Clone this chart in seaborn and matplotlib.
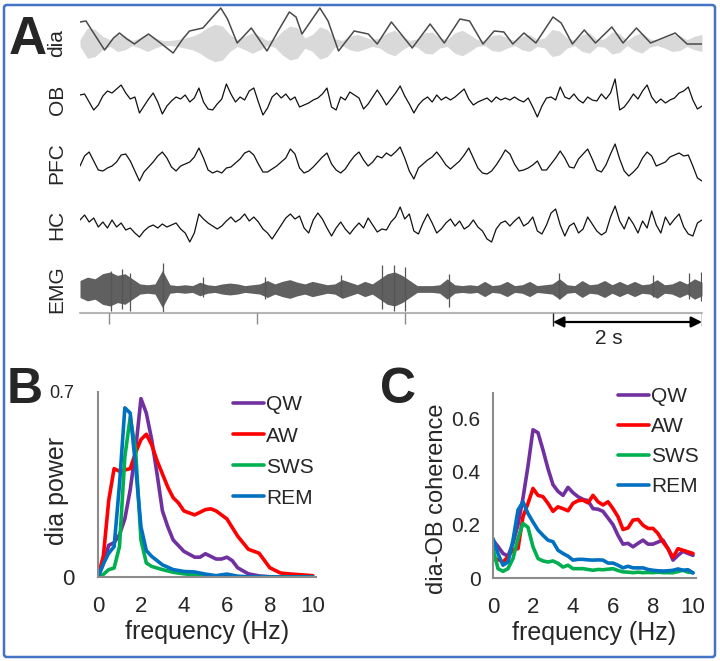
import numpy as np
import pandas as pd
import matplotlib
matplotlib.use("Agg")
from matplotlib import pyplot as plt
from matplotlib.patches import FancyBboxPatch
import seaborn as sns

# ---------------- Panel A: example traces (px-like units)
duration = 8.35  # s shown

# smoothed diaphragm envelope (black line): time (s), height
dia_env_t = [0.0, 0.08, 0.2, 0.33, 0.45, 0.53, 0.63, 0.73, 0.82, 0.92, 1.08, 1.25, 1.38,
             1.47, 1.65, 1.78, 1.89, 1.98, 2.11, 2.30, 2.51, 2.66, 2.81, 2.90, 2.98, 3.10,
             3.22, 3.33, 3.47, 3.68, 3.87, 3.99, 4.18, 4.46, 4.70, 4.89, 5.10, 5.23, 5.41,
             5.56, 5.69, 5.81, 5.96, 6.12, 6.35, 6.46, 6.61, 6.77, 6.92, 7.14, 7.29, 7.47,
             7.66, 7.99, 8.15, 8.35]
dia_env_v = [21, 22, 8, -7, 5, 10, 4, -1, 4, 9, 0, -10, 4,
             12, 15, 26, 35, 24, 0, 15, -8, 12, 31, 26, 9, 22,
             35, 22, -8, 12, 9, -1, 21, -5, 19, 0, 24, 22, -1,
             12, 11, -1, 10, 0, 26, 20, -1, 13, 0, 16, 0, 15,
             0, 10, -1, -1]

# raw diaphragm signal: half-amplitude of the grey band, every ~0.1 s
dia_raw_amp = [4, 18, 16, 8, 4, 10, 8, 3, 6, 10, 6, 3, 3, 4, 6, 8, 12, 18, 22, 20,
               10, 4, 8, 12, 8, 3, 5, 14, 20, 18, 6, 10, 19, 16, 5, 3, 8, 10, 7, 4,
               6, 12, 15, 8, 3, 5, 12, 13, 6, 4, 12, 15, 10, 4, 3, 9, 10, 6, 3, 8,
               10, 4, 6, 16, 14, 6, 3, 10, 12, 4, 5, 13, 11, 3, 9, 12, 5, 3, 6, 10,
               9, 4, 8, 10]

ob_trace = [5, 6, -2, -10, -5, 4, 9, 7, 11, 15, 7, 1, 3, -13, -6, 1, 7, -2, -14, -6,
            -1, 3, 1, 5, -2, 2, 12, -2, -9, -10, -4, 1, 16, 6, -2, 3, 0, 9, 12, -2,
            -15, -8, 3, 7, 2, 6, 0, 3, -7, -5, -3, 0, 2, 6, 12, -7, -10, 3, 0, 8,
            5, 2, -9, -4, 3, 10, 3, -5, 1, 7, 14, 4, -4, -13, -5, 0, 3, -2, 5, 0,
            3, 0, 3, 7, 11, 1, -5, -2, 0, 2, -2, 3, 0, 2, 0, 3, 0, -2, 2, -7,
            -17, -6, 2, 3, 0, 13, 3, 1, 6, 0, -3, 3, 0, -1, 6, 1, 7, 21, -10, -7,
            -1, 6, 1, 9, 15, 3, -3, 1, -3, 0, 2, 7, 9, 13, 0, -9, -6]

pfc_trace = [-3, 7, 11, 2, -7, -8, -5, -3, 1, 8, 9, 2, -8, -18, -9, -4, 1, 7, 11, 5,
             -4, -8, -3, -1, 1, 6, 15, 5, -7, -10, -8, -10, -5, -4, 0, 4, 10, 12, 8, -1,
             -9, -9, -6, -3, 1, 5, 14, 9, -5, -10, -8, -4, 1, 6, 10, -1, -7, -10, -6, 1,
             7, 11, 3, -3, 1, 7, 5, 10, 7, 11, 16, 5, -8, -16, -5, -1, 3, 6, 11, 5,
             -2, -6, -2, 2, 8, 15, 5, -5, -10, -11, -8, -2, 5, 13, 9, -1, -8, -7, -5, -2,
             2, -7, -7, -1, 5, 12, 5, -4, -5, 4, 9, 14, 4, -7, -9, -2, 9, 19, 4, -8,
             -13, -9, -4, 5, 11, 7, -3, -1, 1, 6, 8, 10, 7, 8, -3, -15, -18]

hc_trace = [5, 10, 3, 7, -2, 3, -3, 5, -2, 2, -5, -3, -8, -12, -6, -2, 0, -3, 1, -2,
            0, 2, -4, -8, -17, -8, 11, 6, 2, -1, -4, -1, 4, 8, 3, 6, 11, 4, 8, 3,
            -4, -8, -14, -7, 0, 7, 11, 6, 9, -3, -8, 5, 12, 6, -3, -11, -3, 3, -4, -9,
            -3, 2, -3, 7, 0, -7, -4, -5, 3, 8, 18, 6, 11, -6, -9, 2, 11, 2, -8, -4,
            2, 6, -1, 4, -4, -1, 5, -2, -6, -14, -17, -4, 2, 4, -1, 4, 8, -1, 2, 8,
            -6, -9, 0, 12, 16, 0, -11, -1, 2, -8, -4, 8, 1, -6, -10, -7, 8, 19, 4, -4,
            8, 1, -8, 4, -3, 14, 0, -8, 8, 0, 6, 11, -2, -9, -11, 2, 5]

# EMG: half-amplitude of the band every ~0.1 s, plus the large spikes
emg_amp = [10, 14, 12, 18, 20, 16, 18, 12, 6, 5, 6, 22, 5, 4, 5, 4, 8, 5, 4, 6,
           7, 6, 4, 5, 6, 10, 6, 9, 11, 8, 6, 9, 7, 5, 6, 11, 8, 5, 9, 6,
           12, 18, 20, 16, 10, 4, 4, 4, 5, 12, 5, 4, 5, 4, 9, 4, 5, 9, 4, 5,
           9, 4, 5, 6, 12, 5, 4, 10, 5, 6, 10, 5, 9, 5, 9, 5, 6, 11, 5, 6,
           10, 6, 12, 8]
emg_spike_t = [0.42, 0.57, 0.67, 1.11, 1.65, 2.48, 3.50, 4.06, 4.21, 4.36, 4.95, 6.43, 7.69, 8.18, 8.34]
emg_spike_up = [18, 20, 16, 26, 12, 12, 14, 24, 24, 22, 15, 16, 14, 16, 17]
emg_spike_down = [22, 20, 22, 23, 8, 10, 8, 20, 22, 22, 18, 10, 8, 10, 12]

time_ticks = [0.39, 2.37, 4.36]
scale_bar = [6.35, 8.35]  # 2 s

# ---------------- Panel B: dia power spectra
states = ["QW", "AW", "SWS", "REM"]
b_qw_f = [0, 0.25, 0.5, 0.75, 1.0, 1.25, 1.5, 1.75, 2.0, 2.25, 2.5, 2.75, 3.0, 3.25, 3.5,
          4.0, 4.5, 4.75, 5.0, 5.25, 5.5, 5.75, 6.0, 6.25, 6.5, 7.0, 7.5, 8.0, 9.0, 10.0]
b_qw = [0, 0.05, 0.12, 0.13, 0.16, 0.22, 0.33, 0.48, 0.675, 0.62, 0.52, 0.39, 0.25, 0.19, 0.14,
        0.097, 0.075, 0.075, 0.088, 0.078, 0.068, 0.068, 0.075, 0.062, 0.035, 0.012, 0.004, 0.001, 0, 0]
b_aw_f = [0, 0.25, 0.5, 0.75, 1.0, 1.25, 1.5, 1.75, 2.0, 2.25, 2.5, 2.75, 3.0, 3.25, 3.5, 3.75,
          4.0, 4.5, 5.0, 5.25, 5.5, 6.0, 6.5, 7.0, 7.5, 8.0, 8.5, 9.0, 9.5, 10.0]
b_aw = [0, 0.08, 0.29, 0.41, 0.40, 0.405, 0.41, 0.47, 0.52, 0.54, 0.50, 0.44, 0.39, 0.34, 0.30, 0.28,
        0.25, 0.235, 0.255, 0.258, 0.25, 0.22, 0.155, 0.105, 0.09, 0.035, 0.015, 0.011, 0.008, 0.005]
b_sws_f = [0, 0.25, 0.5, 0.75, 1.0, 1.25, 1.5, 1.75, 2.0, 2.25, 2.5, 3.0, 3.5, 4.0, 4.5, 5.0,
           5.5, 6.0, 6.5, 7.0, 8.0, 10.0]
b_sws = [0, 0.01, 0.028, 0.034, 0.115, 0.455, 0.605, 0.48, 0.14, 0.053, 0.04, 0.028, 0.018, 0.012,
         0.008, 0.005, 0.003, 0.008, 0.001, 0, 0, 0]
b_rem_f = [0, 0.25, 0.5, 0.75, 1.0, 1.25, 1.5, 1.75, 2.0, 2.25, 2.5, 3.0, 3.5, 4.0, 4.5, 5.0,
           5.5, 6.0, 6.5, 7.0, 8.0, 10.0]
b_rem = [0, 0.05, 0.09, 0.115, 0.35, 0.64, 0.62, 0.42, 0.19, 0.10, 0.078, 0.046, 0.028, 0.021,
         0.019, 0.011, 0.005, 0.011, 0.003, 0.001, 0, 0]

# ---------------- Panel C: dia-OB coherence (0.25 Hz bins, 0..10 Hz)
c_freq = np.arange(0, 10.01, 0.25)
c_qw = [0.142, 0.118, 0.092, 0.082, 0.13, 0.2, 0.3, 0.42, 0.556, 0.545, 0.48, 0.41, 0.35, 0.325,
        0.31, 0.34, 0.32, 0.305, 0.295, 0.29, 0.26, 0.258, 0.25, 0.225, 0.20, 0.16, 0.127, 0.13,
        0.117, 0.13, 0.142, 0.127, 0.127, 0.135, 0.142, 0.11, 0.067, 0.085, 0.10, 0.092, 0.085]
c_aw = [0.069, 0.07, 0.06, 0.079, 0.107, 0.11, 0.23, 0.28, 0.336, 0.31, 0.305, 0.28, 0.25, 0.267,
        0.26, 0.252, 0.28, 0.29, 0.292, 0.282, 0.31, 0.286, 0.274, 0.286, 0.26, 0.23, 0.182, 0.188,
        0.217, 0.22, 0.198, 0.186, 0.186, 0.167, 0.135, 0.11, 0.077, 0.11, 0.104, 0.098, 0.092]
c_sws = [0.11, 0.035, 0.025, 0.035, 0.073, 0.148, 0.205, 0.19, 0.117, 0.073, 0.064, 0.06, 0.064,
         0.055, 0.041, 0.048, 0.035, 0.035, 0.035, 0.032, 0.029, 0.032, 0.031, 0.033, 0.035, 0.028,
         0.023, 0.022, 0.02, 0.022, 0.02, 0.021, 0.02, 0.022, 0.02, 0.02, 0.02, 0.024, 0.029, 0.022, 0.02]
c_rem = [0.148, 0.092, 0.048, 0.06, 0.142, 0.255, 0.286, 0.242, 0.21, 0.18, 0.16, 0.142, 0.136,
         0.104, 0.092, 0.082, 0.067, 0.07, 0.07, 0.068, 0.067, 0.068, 0.067, 0.056, 0.056, 0.048,
         0.038, 0.044, 0.038, 0.038, 0.038, 0.032, 0.029, 0.027, 0.026, 0.027, 0.029, 0.034, 0.029,
         0.031, 0.019]

palette = {"QW": "#7030A0", "AW": "#FF0000", "SWS": "#00B050", "REM": "#0070C0"}

dfB = pd.concat([
    pd.DataFrame({"freq": f, "val": v, "state": s})
    for s, f, v in [("QW", b_qw_f, b_qw), ("AW", b_aw_f, b_aw),
                    ("SWS", b_sws_f, b_sws), ("REM", b_rem_f, b_rem)]
])
dfC = pd.concat([
    pd.DataFrame({"freq": c_freq, "val": v, "state": s})
    for s, v in [("QW", c_qw), ("AW", c_aw), ("SWS", c_sws), ("REM", c_rem)]
])

sns.set_style("white")
plt.rcParams["font.family"] = ["Liberation Sans", "DejaVu Sans"]

W, H = 720, 661
fig = plt.figure(figsize=(W / 100, H / 100), dpi=100)


def box(l, t, r, b):
    return [l / W, (H - b) / H, (r - l) / W, (b - t) / H]


# outer blue frame
fig.patches.append(FancyBboxPatch((4 / W, 4 / H), 711 / W, 652 / H,
                                  boxstyle="round,pad=0,rounding_size=0.004",
                                  transform=fig.transFigure, fill=False,
                                  edgecolor="#4472C4", lw=1.8))

# ---------------- A
axA = fig.add_axes(box(80, 0, 702, 340))
axA.set_xlim(0, duration)
axA.set_ylim(-340, 0)
axA.axis("off")

rows = {"dia": 43, "OB": 100, "PFC": 163, "HC": 225, "EMG": 289}

t_dia = np.linspace(0, duration, len(dia_raw_amp))
amp = np.array(dia_raw_amp) * 0.85
axA.fill_between(t_dia, -rows["dia"] - amp, -rows["dia"] + amp, color="#d9d9d9", lw=0)
sns.lineplot(x=dia_env_t, y=np.array(dia_env_v) - rows["dia"], ax=axA, color="#4a4a4a",
             lw=1.1, estimator=None, sort=False)

for name, tr in [("OB", ob_trace), ("PFC", pfc_trace), ("HC", hc_trace)]:
    t = np.linspace(0, duration, len(tr))
    sns.lineplot(x=t, y=np.array(tr) - rows[name], ax=axA, color="#111111", lw=0.9,
                 estimator=None, sort=False)

t_emg = np.linspace(0, duration, len(emg_amp))
ea = np.array(emg_amp) * 0.85
axA.fill_between(t_emg, -rows["EMG"] - ea, -rows["EMG"] + ea, color="#606060", lw=0)
axA.vlines(emg_spike_t, -rows["EMG"] - np.array(emg_spike_down),
           -rows["EMG"] + np.array(emg_spike_up), color="#555555", lw=0.9)

for name, yc in rows.items():
    fig.text(57 / W, 1 - yc / H, name, rotation=90, ha="center", va="center", fontsize=15)

# time axis and 2 s scale bar
axA.plot([0, duration], [-313, -313], color="#b5b5b5", lw=1.5, clip_on=False)
axA.vlines(time_ticks, -324, -313, color="#8a8a8a", lw=1)
axA.vlines(scale_bar, -326, -313, color="#222222", lw=1)
axA.annotate("", xy=(scale_bar[1], -322), xytext=(scale_bar[0], -322),
             arrowprops=dict(arrowstyle="<|-|>", color="black", lw=1.6, mutation_scale=16,
                             shrinkA=0, shrinkB=0), annotation_clip=False)
axA.text(np.mean(scale_bar) - 0.25, -339, "2 s", ha="center", va="center", fontsize=15)


def style_spec(ax, ylim, yticks, ylabels):
    ax.set_xlim(0, 10.15)
    ax.set_ylim(*ylim)
    ax.set_xticks(range(11))
    ax.set_xticklabels([str(i) if i % 2 == 0 else "" for i in range(11)], fontsize=16)
    ax.set_yticks(yticks)
    ax.set_yticklabels(ylabels)
    for s in ["top", "right"]:
        ax.spines[s].set_visible(False)
    for s in ["left", "bottom"]:
        ax.spines[s].set_color("#8c8c8c")
        ax.spines[s].set_linewidth(1.5)
    ax.tick_params(axis="both", direction="out", length=5, width=1.2, color="#8c8c8c")
    ax.tick_params(axis="x", pad=9)
    ax.set_xlabel("frequency (Hz)", fontsize=18, labelpad=2)


# ---------------- B
axB = fig.add_axes(box(98, 392, 316, 577))
sns.lineplot(data=dfB, x="freq", y="val", hue="state", hue_order=states, palette=palette,
             lw=2.6, estimator=None, sort=False, ax=axB)
style_spec(axB, (0, 0.7), [0, 0.7], ["0", "0.7"])
axB.tick_params(axis="y", pad=12)
for lab, fs in zip(axB.get_yticklabels(), [16, 13]):
    lab.set_fontsize(fs)
axB.set_ylabel("dia power", fontsize=18)
axB.yaxis.set_label_coords((57 - 98) / 218, 0.465)
axB.yaxis.label.set_verticalalignment("center")
sns.move_legend(axB, "upper left", bbox_to_anchor=(223 / W, 1 - 385 / H),
                bbox_transform=fig.transFigure, frameon=False, title=None, fontsize=15,
                handlelength=1.45, handletextpad=0.12, labelspacing=0.58, borderpad=0)

# ---------------- C
axC = fig.add_axes(box(493, 393, 696, 578))
sns.lineplot(data=dfC, x="freq", y="val", hue="state", hue_order=states, palette=palette,
             lw=2.6, estimator=None, sort=False, ax=axC)
style_spec(axC, (0, 0.694), [0, 0.2, 0.4, 0.6], ["0", "0.2", "0.4", "0.6"])
axC.tick_params(axis="y", pad=4, labelsize=15)
axC.set_ylabel("dia-OB coherence", fontsize=17)
axC.yaxis.set_label_coords((437 - 493) / 203, 0.43)
axC.yaxis.label.set_verticalalignment("center")
sns.move_legend(axC, "upper left", bbox_to_anchor=(608 / W, 1 - 377 / H),
                bbox_transform=fig.transFigure, frameon=False, title=None, fontsize=15,
                handlelength=1.45, handletextpad=0.12, labelspacing=0.52, borderpad=0)

# panel letters
fig.text(28 / W, 1 - 40 / H, "A", fontsize=38, fontweight="bold", ha="center", va="center")
fig.text(25 / W, 1 - 390 / H, "B", fontsize=36, fontweight="bold", ha="center", va="center")
fig.text(398 / W, 1 - 390 / H, "C", fontsize=36, fontweight="bold", ha="center", va="center")

fig.savefig("out.png", dpi=100)
